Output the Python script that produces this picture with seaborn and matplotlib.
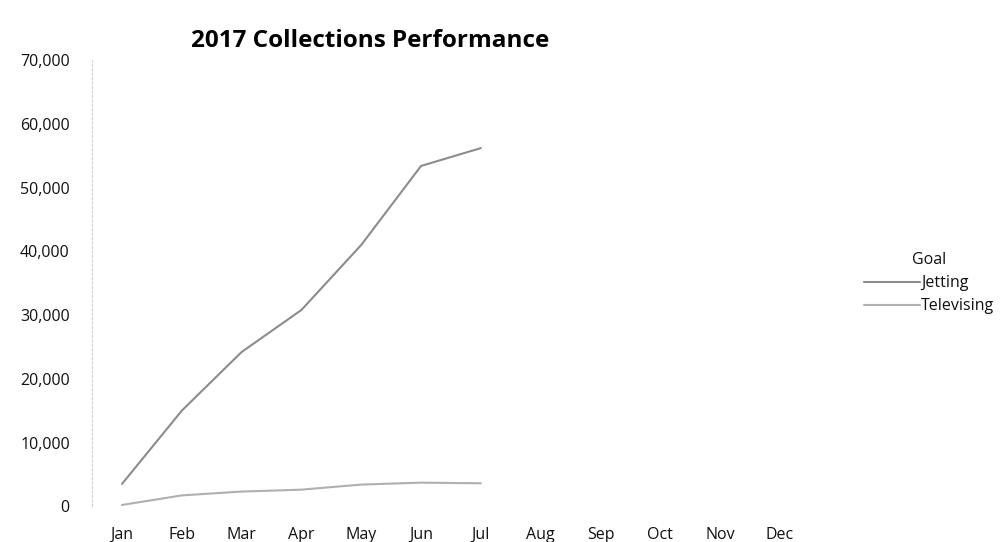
import seaborn as sns, matplotlib.pyplot as plt, pandas as pd

months = ["Jan", "Feb", "Mar", "Apr", "May", "Jun", "Jul", "Aug", "Sep", "Oct", "Nov", "Dec"]
done = months[:7]
jetting = [3500, 15000, 24200, 30800, 41000, 53400, 56200]
televising = [200, 1700, 2300, 2600, 3400, 3700, 3600]

df = pd.DataFrame({
    "Month": done * 2,
    "Footage": jetting + televising,
    "Goal": ["Jetting"] * 7 + ["Televising"] * 7,
})
df["pos"] = [months.index(m) for m in df["Month"]]

sns.set_style("white")
plt.rcParams["font.family"] = ["Open Sans", "DejaVu Sans"]
plt.rcParams["text.color"] = "#111111"
plt.rcParams["xtick.color"] = "#111111"
plt.rcParams["ytick.color"] = "#111111"

fig = plt.figure(figsize=(10.01, 5.42), dpi=100)
ax = fig.add_axes([0.092, 0.066, 0.717, 0.823])

sns.lineplot(data=df, x="pos", y="Footage", hue="Goal",
             palette={"Jetting": "#8c8c8c", "Televising": "#b0b0b0"},
             linewidth=1.5, ax=ax)

ax.set_xlim(-0.5, 11.5)
ax.set_ylim(0, 70000)
ax.set_xticks(range(12))
ax.set_xticklabels(months)
ax.set_yticks(range(0, 70001, 10000))
ax.set_yticklabels([f"{v:,}" for v in range(0, 70001, 10000)])
ax.tick_params(axis="x", length=0, pad=15, labelsize=11.5)
ax.tick_params(axis="y", length=0, pad=16, labelsize=11.5)
ax.set_xlabel("")
ax.set_ylabel("")
for s in ["top", "right", "bottom"]:
    ax.spines[s].set_visible(False)
ax.spines["left"].set_color("#d0d0d0")
ax.spines["left"].set_linestyle((0, (2, 2)))
ax.spines["left"].set_linewidth(0.8)

fig.text(0.37, 0.925, "2017 Collections Performance", ha="center", va="center",
         fontsize=17.5, fontweight="bold", color="black")

leg = ax.legend(title="Goal", loc="center left", bbox_to_anchor=(1.055, 0.5),
                frameon=False, fontsize=11.5, title_fontsize=11.5,
                handlelength=3.5, handletextpad=0.1, labelspacing=0.45)

plt.savefig("out.png", dpi=100)
